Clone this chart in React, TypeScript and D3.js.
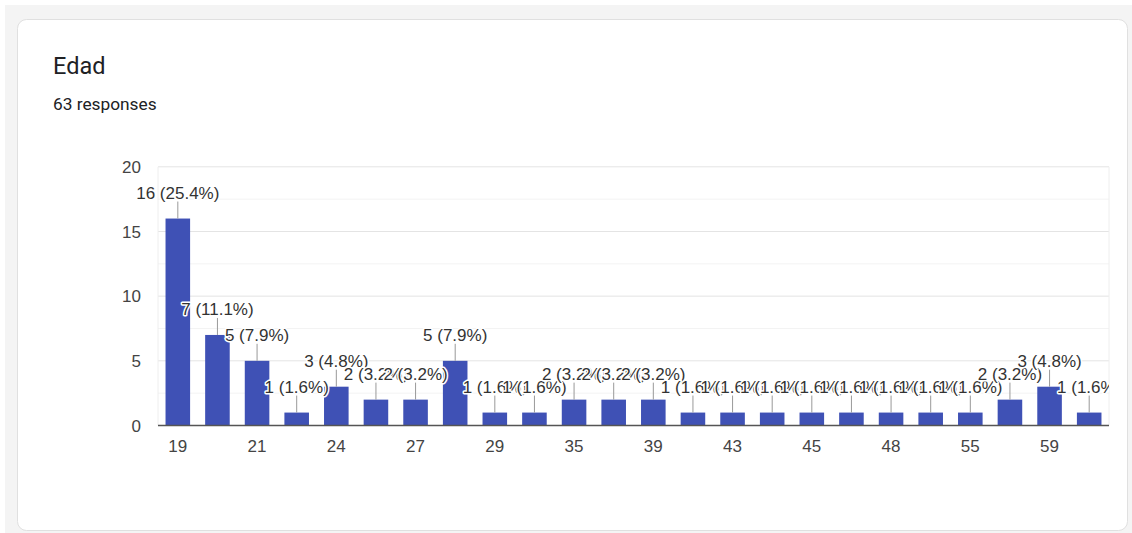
import { useEffect, useRef } from 'react';
import * as d3 from 'd3';

// Edades (categorías) y número de respuestas
const AGES = ['19', '20', '21', '23', '24', '25', '27', '28', '29', '31', '35', '37', '39', '40', '43', '44', '45', '46', '48', '50', '55', '57', '59', '61'];
const COUNTS = [16, 7, 5, 1, 3, 2, 2, 5, 1, 1, 2, 2, 2, 1, 1, 1, 1, 1, 1, 1, 1, 2, 3, 1];
const Y_TICKS = [0, 5, 10, 15, 20];
const MINOR_TICKS = [2.5, 7.5, 12.5, 17.5];
const TITLE = 'Edad';
const SUBTITLE = '63 responses';

const W = 1132;
const H = 533;
const BAR = '#3f51b5';
const FONT = 'Arial, "Liberation Sans", sans-serif';

export default function App() {
  const ref = useRef<SVGSVGElement>(null);

  useEffect(() => {
    document.body.style.margin = '0';
    if (!ref.current) return;
    const svg = d3.select(ref.current);
    svg.selectAll('*').remove();

    const total = d3.sum(COUNTS);

    // fondo y tarjeta
    svg.append('rect').attr('width', W).attr('height', H).attr('fill', '#fff');
    svg.append('rect').attr('x', 5).attr('y', 5).attr('width', W - 5).attr('height', H - 5).attr('fill', '#f4f4f4');
    svg.append('rect')
      .attr('x', 17.5).attr('y', 19.5).attr('width', 1110).attr('height', 511)
      .attr('rx', 9).attr('fill', '#fff').attr('stroke', '#e0e0e0');

    svg.append('text').attr('x', 53).attr('y', 74)
      .attr('font-family', 'Roboto, sans-serif').attr('font-size', 23.5)
      .attr('fill', '#202124').text(TITLE);
    svg.append('text').attr('x', 53).attr('y', 110)
      .attr('font-family', 'Roboto, sans-serif').attr('font-size', 17.3)
      .attr('fill', '#202124').text(SUBTITLE);

    const left = 158;
    const right = 1109;
    const x = d3.scaleBand<string>().domain(AGES).range([left, right]).paddingInner(0.38).paddingOuter(0.19);
    const y = d3.scaleLinear().domain([0, 20]).range([425.5, 166.8]);

    const g = svg.append('g');

    // rejilla
    g.selectAll('line.minor').data(MINOR_TICKS).join('line')
      .attr('x1', left).attr('x2', right)
      .attr('y1', (d) => y(d)).attr('y2', (d) => y(d))
      .attr('stroke', '#f3f3f3');
    g.selectAll('line.major').data(Y_TICKS.filter((t) => t > 0)).join('line')
      .attr('x1', left).attr('x2', right)
      .attr('y1', (d) => y(d)).attr('y2', (d) => y(d))
      .attr('stroke', '#e4e4e4');
    [left, right].forEach((xx) => {
      g.append('line').attr('x1', xx).attr('x2', xx).attr('y1', y(20)).attr('y2', y(0)).attr('stroke', '#eeeeee');
    });

    // etiquetas eje Y
    g.selectAll('text.yt').data(Y_TICKS).join('text')
      .attr('x', 141).attr('y', (d) => y(d)).attr('dy', '0.36em')
      .attr('text-anchor', 'end').attr('font-family', FONT).attr('font-size', 17)
      .attr('fill', '#444').text((d) => d);

    // barras
    g.selectAll('rect.bar').data(COUNTS).join('rect')
      .attr('x', (_d, i) => x(AGES[i]) ?? 0)
      .attr('width', x.bandwidth())
      .attr('y', (d) => y(d))
      .attr('height', (d) => y(0) - y(d))
      .attr('fill', BAR);

    // línea base
    g.append('line').attr('x1', left).attr('x2', right).attr('y1', y(0)).attr('y2', y(0))
      .attr('stroke', '#555').attr('stroke-width', 1.5);

    // etiquetas eje X (una sí, una no)
    g.selectAll('text.xt').data(AGES.filter((_a, i) => i % 2 === 0)).join('text')
      .attr('x', (d) => (x(d) ?? 0) + x.bandwidth() / 2).attr('y', 452)
      .attr('text-anchor', 'middle').attr('font-family', FONT).attr('font-size', 17)
      .attr('fill', '#444').text((d) => d);

    // anotaciones
    svg.append('clipPath').attr('id', 'clipAnn')
      .append('rect').attr('x', 0).attr('y', 0).attr('width', right).attr('height', H);
    const ann = svg.append('g').attr('clip-path', 'url(#clipAnn)');
    COUNTS.forEach((c, i) => {
      const cx = (x(AGES[i]) ?? 0) + x.bandwidth() / 2;
      const top = y(c);
      ann.append('line').attr('x1', cx).attr('x2', cx).attr('y1', top).attr('y2', top - 17)
        .attr('stroke', '#999').attr('stroke-width', 1);
      ann.append('text').attr('x', cx).attr('y', top - 20)
        .attr('text-anchor', 'middle').attr('font-family', FONT).attr('font-size', 17)
        .attr('fill', '#333').attr('stroke', '#fff').attr('stroke-width', 3)
        .attr('paint-order', 'stroke').attr('stroke-linejoin', 'round')
        .text(`${c} (${((c / total) * 100).toFixed(1)}%)`);
    });
  }, []);

  return (
    <div style={{ position: 'absolute', left: 0, top: 0 }}>
      <svg ref={ref} width={W} height={H} style={{ display: 'block' }}></svg>
    </div>
  );
}
